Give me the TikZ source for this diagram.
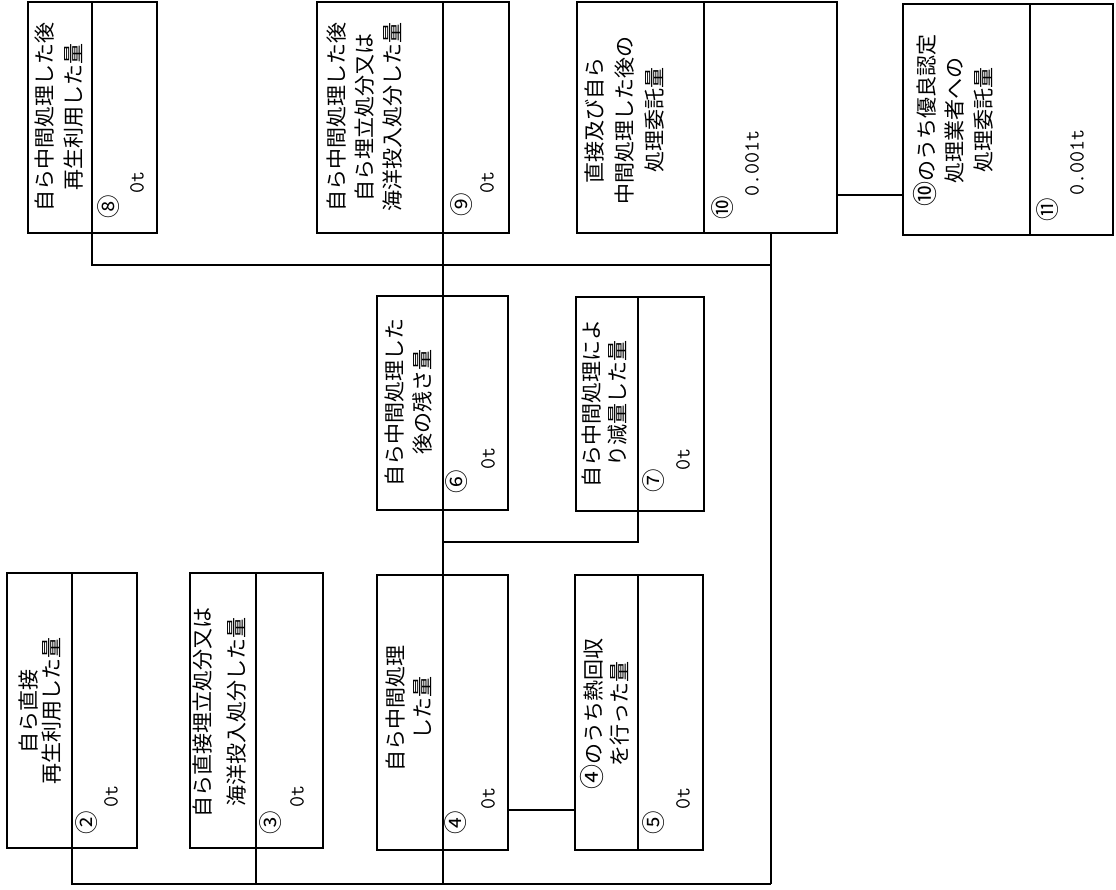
\documentclass[tikz,border=0pt]{standalone}
\usepackage{fontspec}
\newfontfamily\jp{Noto Sans CJK JP}
\newcommand{\circnum}[1]{{\fontsize{25}{25}\selectfont #1}}
\begin{document}
\begin{tikzpicture}[x=1pt,y=-1pt,
  box/.style={draw, line width=1.1pt, inner sep=0pt, outer sep=0pt, anchor=north west},
  wire/.style={line width=1.1pt},
  title/.style={rotate=90, align=center, inner sep=0pt, font=\jp\fontsize{21}{#1}\selectfont},
  num/.style={rotate=90, inner sep=0pt, font=\jp\fontsize{23.5}{23.5}\selectfont},
  val/.style={rotate=90, anchor=west, inner sep=0pt, font=\ttfamily\fontsize{21.5}{21.5}\selectfont}]
\useasboundingbox (0,0) rectangle (1116,889);

% ---- boxes ----
\node[box, minimum width=130pt, minimum height=275pt] (b2) at (7,573) {};
\node[box, minimum width=133pt, minimum height=275pt] (b3) at (190,573) {};
\node[box, minimum width=131pt, minimum height=275pt] (b4) at (377,575) {};
\node[box, minimum width=128pt, minimum height=275pt] (b5) at (575,575) {};
\node[box, minimum width=131pt, minimum height=214pt] (b6) at (377,296) {};
\node[box, minimum width=128pt, minimum height=214pt] (b7) at (576,297) {};
\node[box, minimum width=129pt, minimum height=231pt] (b8) at (28,2) {};
\node[box, minimum width=192pt, minimum height=231pt] (b9) at (317,2) {};
\node[box, minimum width=260pt, minimum height=231pt] (b10) at (577,2) {};
\node[box, minimum width=210pt, minimum height=231pt] (b11) at (903,4) {};

% ---- divider positions ----
\coordinate (d2) at (72,0);
\coordinate (d3) at (256,0);
\coordinate (dm) at (443,0);
\coordinate (dr) at (638,0);
\coordinate (d8) at (92,0);
\coordinate (d10) at (704,0);
\coordinate (d11) at (1030,0);
\coordinate (dv) at (771,0);

\draw[wire] (b2.north -| d2) -- (b2.south -| d2);
\draw[wire] (b3.north -| d3) -- (b3.south -| d3);
\draw[wire] (b4.north -| dm) -- (b4.south -| dm);
\draw[wire] (b5.north -| dr) -- (b5.south -| dr);
\draw[wire] (b6.north -| dm) -- (b6.south -| dm);
\draw[wire] (b7.north -| dr) -- (b7.south -| dr);
\draw[wire] (b8.north -| d8) -- (b8.south -| d8);
\draw[wire] (b9.north -| dm) -- (b9.south -| dm);
\draw[wire] (b10.north -| d10) -- (b10.south -| d10);
\draw[wire] (b11.north -| d11) -- (b11.south -| d11);

% ---- connectors ----
\coordinate (bl) at (771,884);
\coordinate (tr) at (771,265);
\coordinate (j7) at (443,542);
\coordinate (c45) at (0,810);
\coordinate (c1011) at (0,195);

\draw[wire] (b2.south -| d2) |- (bl);
\draw[wire] (b3.south -| d3) -- (d3 |- bl);
\draw[wire] (b9.south -| dm) -- (b6.north -| dm);
\draw[wire] (b6.south -| dm) -- (b4.north -| dm);
\draw[wire] (b4.south -| dm) -- (dm |- bl);
\draw[wire] (b7.south -| dr) |- (j7);
\draw[wire] (b4.east |- c45) -- (b5.west |- c45);
\draw[wire] (b8.south -| d8) |- (tr);
\draw[wire] (b10.south -| dv) -- (bl);
\draw[wire] (b10.east |- c1011) -- (b11.west |- c1011);

% ---- titles ----
\node[title=23] (t2) at (40.5,711) {自ら直接\\再生利用した量};
\node[title=34] (t3) at (220,712) {自ら直接埋立処分又は\\海洋投入処分した量};
\node[title=27] (t4) at (408.5,708) {自ら中間処理\\した量};
\node[title=26] (t5) at (605,714) {\circnum{④}のうち熱回収\\を行った量};
\node[title=28] (t6) at (409,402) {自ら中間処理した\\後の残さ量};
\node[title=26] (t7) at (605,403) {自ら中間処理によ\\り減量した量};
\node[title=29] (t8) at (59.5,117) {自ら中間処理した後\\再生利用した量};
\node[title=28] (t9) at (365,117) {自ら中間処理した後\\自ら埋立処分又は\\海洋投入処分した量};
\node[title=30] (t10) at (625,120) {直接及び自ら\\中間処理した後の\\処理委託量};
\node[title=28.5] (t11) at (953,120) {\circnum{⑩}のうち優良認定\\処理業者への\\処理委託量};

% ---- circled numbers ----
\node[num] (n2) at (87,823) {②};
\node[num] (n3) at (271,823) {③};
\node[num] (n4) at (456,823) {④};
\node[num] (n5) at (654,823) {⑤};
\node[num] (n6) at (457,482) {⑥};
\node[num] (n7) at (654,481) {⑦};
\node[num] (n8) at (109,207) {⑧};
\node[num] (n9) at (462,205) {⑨};
\node[num] (n10) at (723,208) {⑩};
\node[num] (n11) at (1048,210) {⑪};

% ---- values ----
\node[val] (v2) at (111,808) {0t};
\node[val] (v3) at (297,808) {0t};
\node[val] (v4) at (488,810) {0t};
\node[val] (v5) at (683,810) {0t};
\node[val] (v6) at (488,470) {0t};
\node[val] (v7) at (683,471) {0t};
\node[val] (v8) at (137,194) {0t};
\node[val] (v9) at (487,194) {0t};
\node[val] (v10) at (752,197) {0.001t};
\node[val] (v11) at (1077,196) {0.001t};
\end{tikzpicture}
\end{document}
